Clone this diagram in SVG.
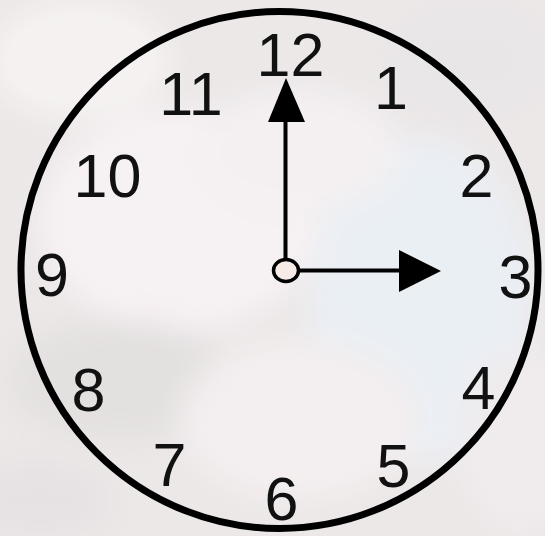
<svg xmlns="http://www.w3.org/2000/svg" width="545" height="536" viewBox="0 0 545 536">
  <defs>
    <filter id="blur" x="-20%" y="-20%" width="140%" height="140%">
      <feGaussianBlur stdDeviation="14"/>
    </filter>
    <style>
      .num { font-family: "Liberation Sans", Arial, sans-serif; font-size: 61px; fill: #111; text-anchor: middle; }
      .hand { stroke: #000; stroke-width: 4; fill: none; }
      .head { fill: #000; }
    </style>
  </defs>
  <!-- background -->
  <rect x="0" y="0" width="545" height="536" fill="#ece8e8"/>
  <g filter="url(#blur)" opacity="0.9">
    <ellipse cx="80" cy="60" rx="90" ry="60" fill="#f7f3f3"/>
    <ellipse cx="470" cy="60" rx="80" ry="55" fill="#e9e6e8"/>
    <ellipse cx="420" cy="300" rx="110" ry="160" fill="#eaf0f6"/>
    <ellipse cx="180" cy="220" rx="140" ry="110" fill="#f8f2f4"/>
    <ellipse cx="120" cy="380" rx="110" ry="60" fill="#e3e0e0"/>
    <ellipse cx="300" cy="420" rx="120" ry="80" fill="#f4eff0"/>
    <ellipse cx="520" cy="440" rx="60" ry="90" fill="#f1ecee"/>
    <ellipse cx="40" cy="500" rx="70" ry="40" fill="#e6e2e3"/>
    <ellipse cx="300" cy="150" rx="100" ry="60" fill="#f5f1f3"/>
  </g>
  <!-- clock face -->
  <g id="face">
    <circle cx="279.5" cy="270" r="258.5" fill="none" stroke="#000" stroke-width="7"/>
  </g>
  <!-- numbers -->
  <g id="numbers">
    <text class="num" x="290.5" y="76">12</text>
    <text class="num" x="391" y="109">1</text>
    <text class="num" x="476.5" y="197">2</text>
    <text class="num" x="515.5" y="298">3</text>
    <text class="num" x="478.5" y="409">4</text>
    <text class="num" x="393.5" y="487">5</text>
    <text class="num" x="281.5" y="520">6</text>
    <text class="num" x="169.5" y="486">7</text>
    <text class="num" x="88.5" y="411">8</text>
    <text class="num" x="52" y="296">9</text>
    <text class="num" x="107.5" y="197">10</text>
    <text class="num" x="191" y="115">11</text>
  </g>
  <!-- hands -->
  <g id="hands">
    <line class="hand" x1="285.5" y1="258" x2="285.5" y2="118"/>
    <polygon class="head" points="286,78 268,122 305,122"/>
    <line class="hand" x1="298" y1="270.5" x2="402" y2="270.5"/>
    <polygon class="head" points="399,250 441,271 399,292"/>
    <ellipse cx="286" cy="270.5" rx="12.5" ry="11" fill="#f6ebe6" stroke="#000" stroke-width="3.5"/>
  </g>
</svg>
